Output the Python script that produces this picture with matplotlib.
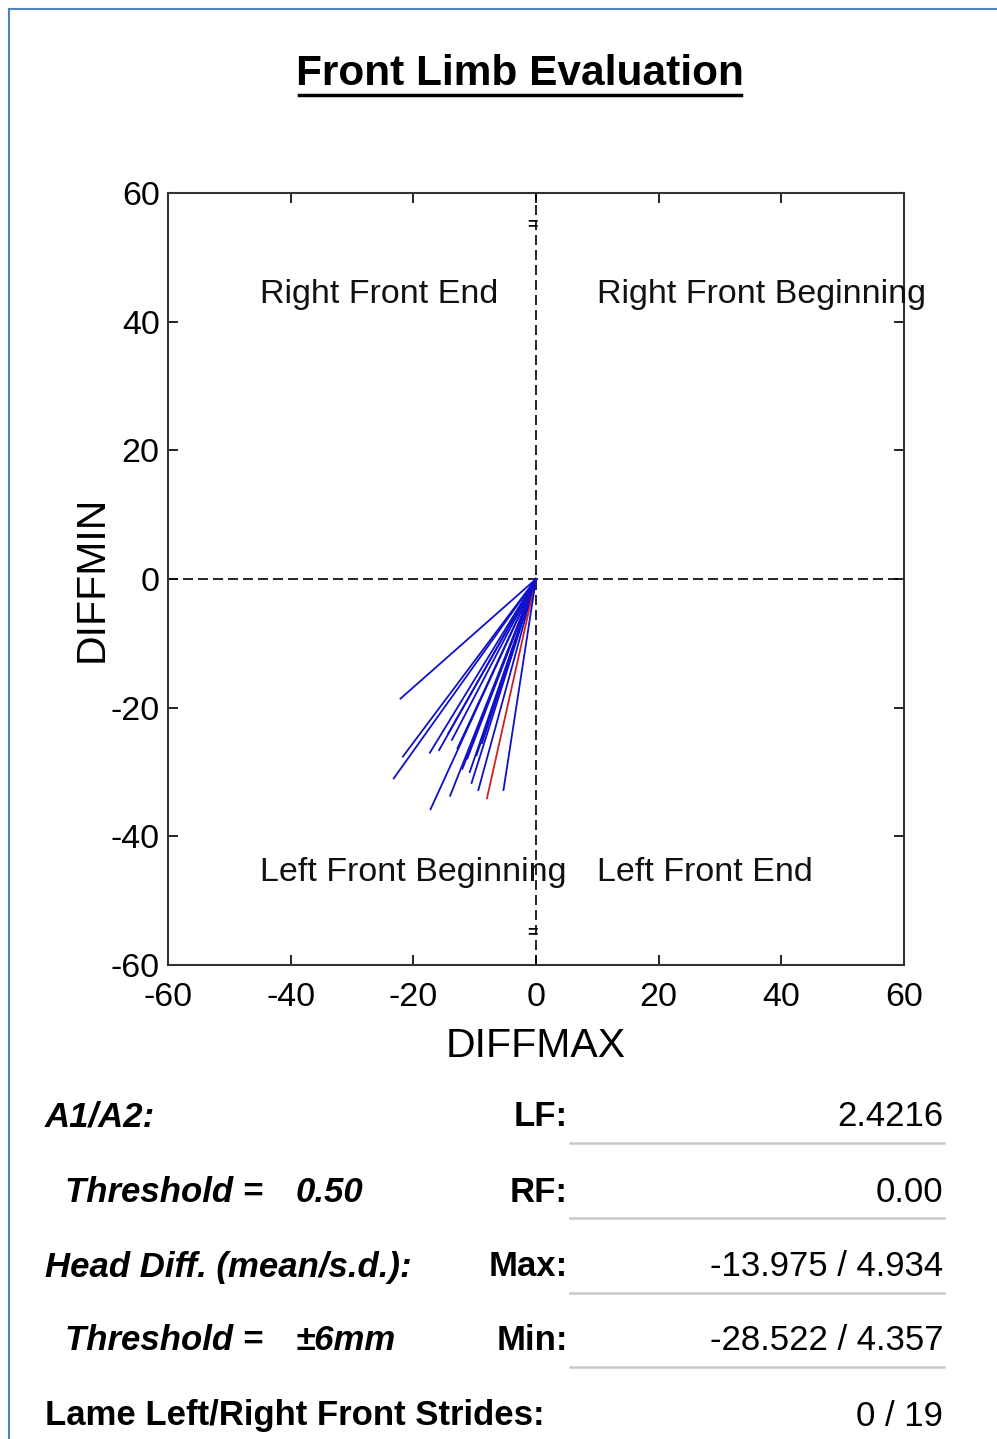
import matplotlib
matplotlib.use("Agg")
import matplotlib.pyplot as plt
from matplotlib.lines import Line2D

plt.rcParams['font.family'] = ['Liberation Sans', 'DejaVu Sans']
plt.rcParams['axes.unicode_minus'] = False

# stride vectors (end points, all start at origin)
diff_max = [-22.1, -21.7, -23.2, -17.3, -15.8, -14.3, -13.7, -17.2, -12.8, -14.0,
            -11.2, -10.5, -9.7, -9.4, -8.0, -5.3, -12.0, -10.8, -8.8]
diff_min = [-18.6, -27.6, -31.0, -27.0, -26.6, -24.0, -25.0, -35.8, -26.3, -33.7,
            -27.9, -31.7, -27.4, -32.8, -34.1, -32.8, -29.5, -30.0, -25.5]
highlight = 14  # the red stride

ticks = [-60, -40, -20, 0, 20, 40, 60]
quadrants = [("Right Front End", -45, 44.3), ("Right Front Beginning", 10, 44.3),
             ("Left Front Beginning", -45, -45.6), ("Left Front End", 10, -45.6)]

left_labels = ["A1/A2:", "Threshold =", "Head Diff. (mean/s.d.):", "Threshold ="]
left_x = [45, 65, 45, 65]
left_values = ["", "0.50", "", "\u00b16mm"]
mid_labels = ["LF:", "RF:", "Max:", "Min:"]
values = ["2.4216", "0.00", "-13.975 / 4.934", "-28.522 / 4.357"]
strides_label = "Lame Left/Right Front Strides:"
strides_value = "0 / 19"

W, H = 997, 1439
fig = plt.figure(figsize=(W / 100, H / 100), dpi=100)


def fx(x):
    return x / W


def fy(y):
    return 1 - y / H


ax = fig.add_axes([fx(168), fy(965), fx(904) - fx(168), fy(193) - fy(965)])
ax.set_xlim(-60, 60)
ax.set_ylim(-60, 60)

for i, (x, y) in enumerate(zip(diff_max, diff_min)):
    c = '#d02020' if i == highlight else '#1010c8'
    ax.plot([0, x], [0, y], color=c, lw=1.3, zorder=3)

ax.axhline(0, color='black', lw=1.2, ls=(0, (6, 3)), zorder=2)
ax.axvline(0, color='black', lw=1.2, ls=(0, (6, 3)), zorder=2)
ax.text(-0.5, 55, '=', ha='center', va='center', fontsize=13, fontweight='bold')
ax.text(-0.5, -55, '=', ha='center', va='center', fontsize=13, fontweight='bold')

for name, x, y in quadrants:
    ax.text(x, y, name, ha='left', va='center', fontsize=24.5, color='#111111')

ax.set_xticks(ticks)
ax.set_yticks(ticks)
ax.tick_params(direction='in', length=7, width=1.2, labelsize=24.5, top=True, right=True)
ax.tick_params(axis='x', pad=12)
ax.tick_params(axis='y', pad=6)
for s in ax.spines.values():
    s.set_linewidth(1.5)
    s.set_color('#333333')
ax.set_xlabel("DIFFMAX", fontsize=29.5, labelpad=10)
ax.set_ylabel("DIFFMIN", fontsize=29.5, labelpad=0)

# title with underline
fig.text(fx(520), fy(74), "Front Limb Evaluation", ha='center', va='center',
         fontsize=30.5, fontweight='bold')
fig.add_artist(Line2D([fx(299), fx(741)], [fy(95), fy(95)], color='black', lw=2.5))

# page border
fig.add_artist(Line2D([fx(9), fx(9)], [fy(9), 0], color='#4f81bd', lw=1.5))
fig.add_artist(Line2D([fx(9), 1], [fy(9), fy(9)], color='#4f81bd', lw=1.5))

# summary table
rows_y = [1117, 1192, 1267, 1341]
for i, y in enumerate(rows_y):
    fig.text(fx(left_x[i]), fy(y), left_labels[i], ha='left', va='center', fontsize=25,
             fontweight='bold', style='italic')
    if left_values[i]:
        fig.text(fx(296), fy(y), left_values[i], ha='left', va='center', fontsize=25,
                 fontweight='bold', style='italic')
    fig.text(fx(568), fy(y), mid_labels[i], ha='right', va='center', fontsize=25,
             fontweight='bold')
    fig.text(fx(943), fy(y), values[i], ha='right', va='center', fontsize=25)
    fig.add_artist(Line2D([fx(570), fx(944)], [fy(y + 26), fy(y + 26)],
                          color='#c8c8c8', lw=1.8))

fig.text(fx(45), fy(1416), strides_label, ha='left', va='center', fontsize=25,
         fontweight='bold')
fig.text(fx(943), fy(1416), strides_value, ha='right', va='center', fontsize=25)

fig.savefig("out.png", dpi=100)
